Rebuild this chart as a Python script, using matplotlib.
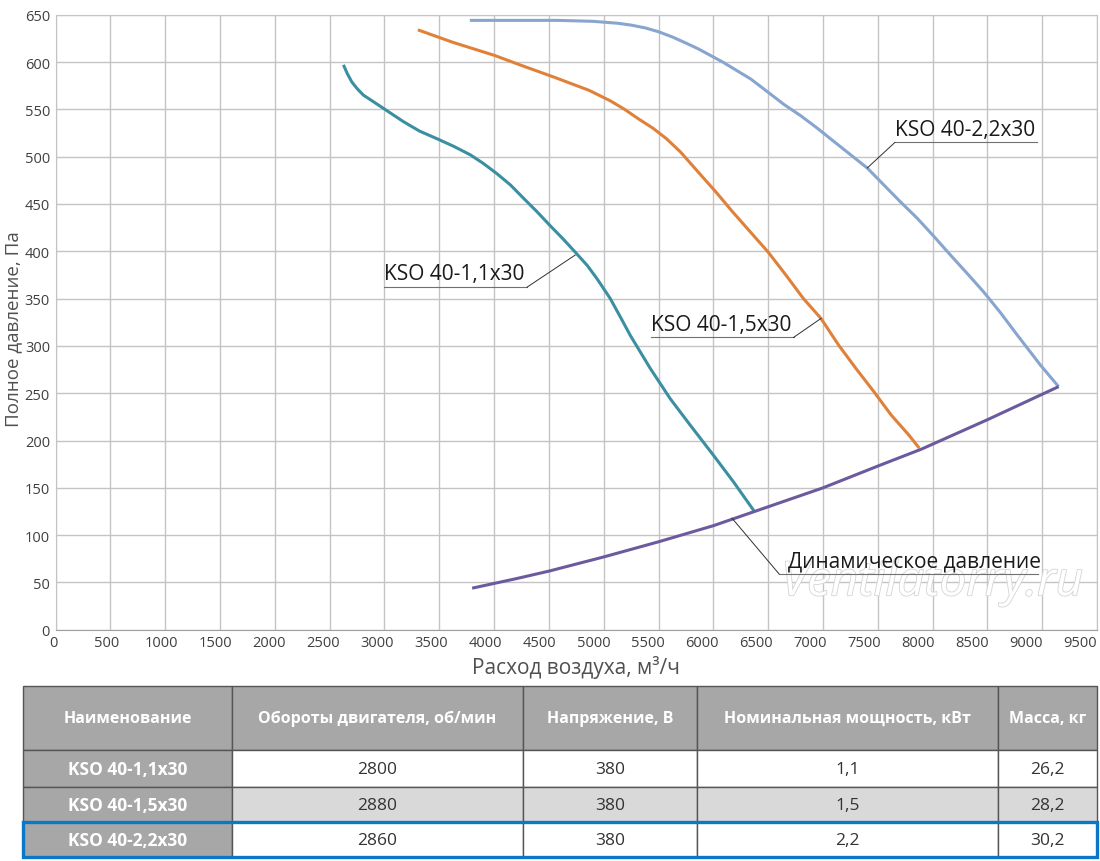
import matplotlib.pyplot as plt
import matplotlib.patheffects as pe
from matplotlib.patches import Rectangle
from matplotlib.transforms import ScaledTranslation

plt.rcParams['font.family'] = ['Open Sans', 'DejaVu Sans']

# fan curves (m3/h, Pa)
q_11 = [2626, 2660, 2702, 2750, 2808, 2900, 2991, 3173, 3320, 3478, 3630, 3782,
        3900, 4026, 4150, 4269, 4390, 4512, 4630, 4741, 4850, 4939, 5060, 5150,
        5243, 5426, 5608, 5791, 6004, 6186, 6369]
p_11 = [597, 588, 579, 572, 565, 558, 551, 537, 527, 519, 511, 502,
        493, 482, 470, 456, 442, 427, 413, 399, 385, 371, 350, 331,
        311, 276, 244, 216, 184, 156, 126]

q_15 = [3305, 3619, 4003, 4259, 4547, 4868, 5060, 5190, 5316, 5450, 5572, 5700,
        5860, 6021, 6181, 6341, 6501, 6661, 6822, 6982, 7142, 7302, 7462, 7622,
        7782, 7878]
p_15 = [634, 621, 607, 596, 584, 570, 559, 550, 540, 530, 519, 505,
        484, 463, 441, 420, 399, 375, 350, 329, 301, 276, 252, 227,
        206, 192]

q_22 = [3779, 4099, 4580, 4900, 5124, 5250, 5380, 5500, 5636, 5750, 5861, 6085,
        6342, 6500, 6646, 6800, 6949, 7100, 7252, 7404, 7556, 7700, 7859, 8010,
        8163, 8320, 8466, 8620, 8769, 8982, 9149]
p_22 = [644, 644, 644, 643, 641, 639, 636, 632, 626, 620, 614, 600,
        582, 568, 555, 543, 530, 516, 502, 488, 470, 453, 435, 416,
        396, 376, 357, 335, 312, 280, 257]

q_dyn = [3800, 4200, 4500, 5000, 5500, 6000, 6400, 7000, 7500, 7900, 8500, 9150]
p_dyn = [44, 54, 62, 77, 93, 110, 126, 150, 173, 191, 222, 257]

x_ticks = list(range(0, 9501, 500))
y_ticks = list(range(0, 651, 50))

col_labels = ['Наименование', 'Обороты двигателя, об/мин', 'Напряжение, В',
              'Номинальная мощность, кВт', 'Масса, кг']
models = ['KSO 40-1,1x30', 'KSO 40-1,5x30', 'KSO 40-2,2x30']
rpm = ['2800', '2880', '2860']
voltage = ['380', '380', '380']
power = ['1,1', '1,5', '2,2']
mass = ['26,2', '28,2', '30,2']

fig = plt.figure(figsize=(11, 8.62), dpi=100)
ax = fig.add_axes([0.0505, 0.2682, 0.9468, 0.7136])

style = dict(lw=2.2, solid_capstyle='butt', solid_joinstyle='round')
ax.plot(q_11, p_11, color='#3a8fa0', zorder=3, **style)
ax.plot(q_15, p_15, color='#e0813a', zorder=3, **style)
ax.plot(q_22, p_22, color='#88a5cf', zorder=3, **style)
ax.plot(q_dyn, p_dyn, color='#6b5b9e', zorder=4, **style)

ax.set_xlim(0, 9500)
ax.set_ylim(0, 650)
ax.set_xticks(x_ticks)
ax.set_yticks(y_ticks)
ax.grid(True, color='#c4c4c4', lw=1)
ax.set_axisbelow(True)
for s in ax.spines.values():
    s.set_color('#c4c4c4')
ax.spines['bottom'].set_color('#a0a0a0')
ax.tick_params(length=0, labelsize=10.5, colors='#404040', pad=4)
# x labels in the original creep slightly left of their grid lines
for i, lab in enumerate(ax.get_xticklabels()):
    dx = -(2.5 + 0.75 * i) / 100
    lab.set_transform(lab.get_transform() + ScaledTranslation(dx, 0, fig.dpi_scale_trans))
ax.set_xlabel('Расход воздуха, м³/ч', fontsize=15, color='#505050', labelpad=3)
ax.set_ylabel('Полное давление, Па', fontsize=13.5, color='#505050')
ax.yaxis.set_label_coords(-0.032, 0.49)

# watermark
ax.text(6620, 50, 'Ventilatorry.ru', fontsize=34, style='italic', color='white',
        ha='left', va='center', zorder=2,
        path_effects=[pe.withStroke(linewidth=1.2, foreground='#d4d4d4')])


# labels with underline + leader
def label(txt, x0, x1, y, xe, ye, left=True, tx=None):
    ax.plot([x0, x1], [y, y], color='#707070', lw=0.8, zorder=5)
    if left:
        ax.plot([xe, x0], [ye, y], color='#303030', lw=0.7, zorder=5)
    else:
        ax.plot([x1, xe], [y, ye], color='#303030', lw=0.7, zorder=5)
    ax.text(tx if tx is not None else x0, y + 3, txt, fontsize=15,
            color='#1a1a1a', ha='left', va='bottom', zorder=6)


label('KSO 40-1,1x30', 3000, 4300, 362, 4740, 396, left=False)
label('KSO 40-1,5x30', 5428, 6732, 309, 6982, 329, left=False)
label('KSO 40-2,2x30', 7656, 8951, 515, 7404, 488, left=True)
label('Динамическое давление', 6600, 8960, 59, 6170, 118, left=True, tx=6683)

# table
tax = fig.add_axes([0.0209, 0.0046, 0.9764, 0.1984])
tax.axis('off')
rows = [list(r) for r in zip(models, rpm, voltage, power, mass)]
col_w = [209, 291, 174, 301, 99]
row_h = [64, 37, 35, 35]
tbl = tax.table(cellText=rows, colLabels=col_labels, colWidths=col_w,
                cellLoc='center', bbox=[0, 0, 1, 1])
tbl.auto_set_font_size(False)
row_bg = ['#ffffff', '#d9d9d9', '#ffffff']
for (r, c), cell in tbl.get_celld().items():
    cell.set_height(row_h[r])
    cell.set_edgecolor('#555555')
    cell.set_linewidth(1)
    t = cell.get_text()
    if r == 0 or c == 0:
        cell.set_facecolor('#a7a7a7')
        t.set_color('white')
        t.set_fontweight('bold')
        t.set_fontsize(11.5 if r == 0 else 12.5)
    else:
        cell.set_facecolor(row_bg[r - 1])
        t.set_color('#333333')
        t.set_fontsize(12.5)

# blue frame round last row
tax.add_patch(Rectangle((0.0, 0.0), 1.0, 35 / 171, fill=False, edgecolor='#0a78c6',
                        lw=2.4, transform=tax.transAxes, zorder=10, clip_on=False))

fig.savefig('out.png', dpi=100)
